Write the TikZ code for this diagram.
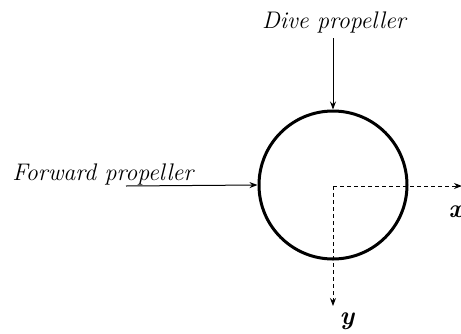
\documentclass[tikz,border=0pt]{standalone}
\usepackage{tikz}
\usetikzlibrary{arrows.meta}

\begin{document}
\begin{tikzpicture}[x=0.5pt, y=-0.5pt, font=\itshape\fontsize{12}{14}\selectfont]
  \useasboundingbox (0,0) rectangle (461,333);
  %% Hull section
  \node[draw, circle, line width=1.5pt, minimum size=74pt, inner sep=0pt] (hull) at (333,185) {};
  %% Propellers
  \node (dive) at (334,22) {Dive propeller};
  \node[anchor=base west, inner sep=0pt] (fwd) at (12,180) {Forward propeller};
  \coordinate (diveS) at (333,38);
  \coordinate (fwdS) at (126,186);
  \draw[line width=0.5pt, -{Stealth[length=4pt, width=3pt]}] (diveS) -- (hull.north);
  \draw[line width=0.5pt, -{Stealth[length=4pt, width=3pt]}] (fwdS) -- (hull.west);
  %% Body axes
  \coordinate (xend) at (462,186);
  \coordinate (yend) at (333,306);
  \draw[line width=0.5pt, dash pattern=on 2pt off 1.5pt, -{Stealth[length=4pt, width=3pt]}] (333,186) -- (xend);
  \draw[line width=0.5pt, dash pattern=on 2pt off 1.5pt, -{Stealth[length=4pt, width=3pt]}] (333,186) -- (yend);
  \node (xlab) at (456,212) {\bfseries\fontsize{13}{15}\selectfont x};
  \node (ylab) at (347,321) {\bfseries\fontsize{13}{15}\selectfont y};
\end{tikzpicture}
\end{document}
